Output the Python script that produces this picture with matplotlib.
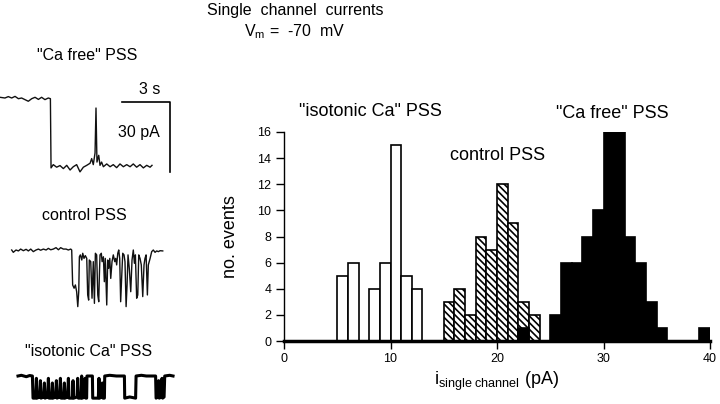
import numpy as np
import matplotlib.pyplot as plt

plt.rcParams['font.family'] = ['Liberation Sans', 'DejaVu Sans']
plt.rcParams['mathtext.fontset'] = 'custom'
plt.rcParams['mathtext.rm'] = 'Liberation Sans'
plt.rcParams['mathtext.it'] = 'Liberation Sans:italic'
plt.rcParams['hatch.linewidth'] = 1.2

# histogram: left bin edge (pA), bin width 1 pA, number of events
iso_left = [5, 6, 8, 9, 10, 11, 12]
iso_counts = [5, 6, 4, 6, 15, 5, 4]
ctrl_left = [15, 16, 17, 18, 19, 20, 21, 22, 23]
ctrl_counts = [3, 4, 2, 8, 7, 12, 9, 3, 2]
free_left = [22, 25, 26, 27, 28, 29, 30, 31, 32, 33, 34, 35, 39]
free_counts = [1, 2, 6, 6, 8, 10, 16, 16, 8, 6, 3, 1, 1]
x_ticks = [0, 10, 20, 30, 40]
y_ticks = [0, 2, 4, 6, 8, 10, 12, 14, 16]

# current traces, time (s) / current (pA)
free_t = [0, 0.31, 0.52, 0.73, 0.94, 1.15, 1.35, 1.56, 1.77, 1.98, 2.19, 2.40, 2.60, 2.81,
          3.02, 3.15, 3.19, 3.33, 3.54, 3.75, 3.96, 4.17, 4.38, 4.58, 4.79, 5.00, 5.21,
          5.42, 5.63, 5.73, 5.83, 5.94, 6.00, 6.06, 6.17, 6.25, 6.35, 6.46, 6.67, 6.88,
          7.08, 7.29, 7.50, 7.71, 7.92, 8.13, 8.33, 8.54, 8.75, 8.96, 9.17, 9.38, 9.50]
free_i = [0.3, 0, 0.6, 0, 0.7, -0.3, 0, -0.7, -1.4, -0.3, 0.3, -0.6, 0.3, -0.7,
          0, -0.3, -30.0, -28.6, -29.7, -29.0, -30.3, -28.9, -30.9, -29.5, -28.6, -31.7, -29.7,
          -28.9, -28.0, -26.0, -28.6, -23.6, -4.3, -27.5, -24.6, -28.9, -27.5, -29.5, -28.3, -29.5,
          -28.6, -29.9, -28.3, -29.5, -28.6, -29.5, -28.3, -29.7, -28.6, -30.0, -28.9, -29.7, -28.9]

ctrl_t = [0, 0.10, 0.27, 0.42, 0.56, 0.73, 0.90, 1.04, 1.19, 1.35, 1.52, 1.67, 1.81, 1.98,
          2.15, 2.29, 2.44, 2.60, 2.77, 2.92, 3.06, 3.23, 3.40, 3.54, 3.69, 3.75, 3.81, 3.90,
          3.98, 4.06, 4.13, 4.19, 4.23, 4.29, 4.38, 4.44, 4.52, 4.60, 4.69, 4.75, 4.81, 4.85,
          4.94, 5.02, 5.10, 5.17, 5.23, 5.31, 5.38, 5.44, 5.48, 5.52, 5.60, 5.65, 5.73, 5.79,
          5.85, 5.94, 6.00, 6.06, 6.13, 6.19, 6.27, 6.35, 6.44, 6.50, 6.56, 6.63, 6.69, 6.75,
          6.81, 6.88, 6.94, 7.02, 7.08, 7.15, 7.21, 7.27, 7.35, 7.44, 7.52, 7.60, 7.67, 7.73,
          7.81, 7.88, 7.94, 8.02, 8.10, 8.19, 8.27, 8.33, 8.40, 8.48, 8.54, 8.65, 8.75, 8.85,
          8.96, 9.06, 9.17, 9.27, 9.44]
ctrl_i = [0, -1.0, 0, -0.4, 0.4, -0.3, 0.3, -0.4, 0.4, -0.7, 0, 0.4, -0.1, 0.4,
          0, 0.7, 0.1, 0.4, 1.0, 0.1, 1.0, 0.4, 0.4, 0, 0.4, 0, -15.0, -16.4,
          -15.0, -17.9, -24.3, -17.9, -2.9, -2.1, -4.3, -1.4, -3.6, -2.4, -3.6, -19.3, -21.5, -4.3,
          -5.0, -20.7, -5.0, -22.9, -1.4, -2.1, -19.3, -22.2, -10.7, -2.1, -1.4, -5.0, -2.9, -13.6,
          -3.6, -23.6, -4.3, -7.9, -3.6, -12.2, -5.0, -2.1, -5.0, -3.6, -6.4, -1.4, 0, -3.6,
          -22.2, -10.7, -1.4, -2.1, -5.0, -24.3, -15.0, -2.1, -7.9, -17.9, -4.3, 0, -5.7, -2.1,
          -20.7, -19.3, -2.1, -3.6, -6.4, -20.0, -6.4, -3.6, -2.1, -19.3, -6.4, -3.6, -0.7, 0,
          -1.0, -0.4, -0.7, -0.3, -0.4]

iso_t = [0, 0.21, 0.52, 0.73, 0.90, 0.94, 1.10, 1.15, 1.19, 1.35, 1.40, 1.44, 1.60, 1.65,
         1.69, 1.85, 1.90, 1.94, 2.10, 2.15, 2.19, 2.35, 2.40, 2.44, 2.60, 2.65, 2.69, 2.85,
         2.90, 2.94, 3.10, 3.15, 3.19, 3.40, 3.44, 3.48, 3.69, 3.73, 3.77, 3.94, 3.98, 4.02,
         4.15, 4.19, 4.23, 4.29, 4.31, 4.65, 4.67, 5.02, 5.06, 5.10, 5.23, 5.27, 5.31, 5.40,
         5.42, 5.73, 6.15, 6.65, 6.67, 6.98, 7.35, 7.38, 7.71, 8.02, 8.60, 8.63, 8.75, 8.79,
         8.83, 8.96, 9.00, 9.04, 9.13, 9.17, 9.48, 9.69]
iso_i = [0, 0.3, -0.3, 0.2, 0, -9.5, -9.5, -1, -9.5, -9, -2, -9.5, -9, -3,
         -9.5, -9, -1, -9.5, -9.5, -3, -9.5, -9, -2, -9.5, -9, -1, -9.5, -9.5,
         -3, -9.5, -9, -1, -9.5, -9.5, -2, -9.5, -9, -1, -9.5, -9.5, 0, -9.5,
         -9, -1, -9.5, -9.5, 0, 0, -9.5, -9.5, -1, -9.5, -9, -3, -9.5, -9.5,
         0, 0.3, 0, 0, -9.5, -9, -9.5, 0, 0.3, 0, 0, -9.5, -9, -2,
         -9.5, -9, -1, -9.5, -9, 0, 0.3, 0]

scale_s = 3
scale_pa = 30

W, H = 720, 404
fig = plt.figure(figsize=(W / 100, H / 100), dpi=100)

# --- left panel: example records ---
PX_PER_S = 16.0
PX_PER_PA = 2.33
PANEL_W = 200


def trace_axes(x0, ybase):
    a = fig.add_axes([0, 0, PANEL_W / W, 1])
    a.set_xlim(-x0 / PX_PER_S, (PANEL_W - x0) / PX_PER_S)
    a.set_ylim(-(H - ybase) / PX_PER_PA, ybase / PX_PER_PA)
    a.axis('off')
    a.patch.set_alpha(0)
    return a


a1 = trace_axes(0, 98)
a1.plot(free_t, free_i, color='#111111', lw=1.0)
sx0, sy0 = 7.6, -1.8
a1.plot([sx0, sx0 + scale_s, sx0 + scale_s], [sy0, sy0, sy0 - scale_pa], color='black', lw=1.2)

a2 = trace_axes(11.7, 250)
a2.plot(ctrl_t, ctrl_i, color='#111111', lw=1.0)

a3 = trace_axes(18, 376)
a3.plot(iso_t, iso_i, color='black', lw=2.2)

fig.text(87 / W, 1 - 55 / H, '"Ca free" PSS', fontsize=11.5, ha='center', va='center')
fig.text(84 / W, 1 - 216 / H, 'control PSS', fontsize=11.5, ha='center', va='center')
fig.text(89 / W, 1 - 352 / H, '"isotonic Ca" PSS', fontsize=11.5, ha='center', va='center')
fig.text(150 / W, 1 - 89 / H, '3 s', fontsize=11.5, ha='center', va='center')
fig.text(139 / W, 1 - 133 / H, '30 pA', fontsize=11.5, ha='center', va='center')

fig.text(295 / W, 1 - 11 / H, 'Single  channel  currents', fontsize=11.5, ha='center', va='center')
fig.text(295 / W, 1 - 32 / H, r'V$_{\rm m}$ =  -70  mV', fontsize=11.5, ha='center', va='center')

# --- right panel: amplitude histogram ---
ax = fig.add_axes([284 / W, (H - 341) / H, 426 / W, 209 / H])
ax.bar(iso_left, iso_counts, width=1, align='edge', color='white', edgecolor='black',
       lw=1.2, zorder=2)
ax.bar(ctrl_left, ctrl_counts, width=1, align='edge', color='white', edgecolor='black',
       hatch='\\' * 5, lw=1.2, zorder=2)
ax.bar(free_left, free_counts, width=1, align='edge', color='black', edgecolor='black',
       lw=1.2, zorder=3)

ax.set_xlim(0, 40)
ax.set_ylim(0, 16)
ax.set_xticks(x_ticks)
ax.set_yticks(y_ticks)
for s in ['top', 'right']:
    ax.spines[s].set_visible(False)
ax.spines['bottom'].set_linewidth(2.5)
ax.spines['bottom'].set_zorder(5)
ax.spines['left'].set_linewidth(1.0)
ax.tick_params(direction='out', length=6, width=1, labelsize=9, pad=3)

ax.set_ylabel('no. events', fontsize=13)
ax.yaxis.set_label_coords(-0.105, 0.5)
ax.set_xlabel(r'i$_{\rm single\ channel}$ (pA)', fontsize=13)
ax.xaxis.set_label_coords(0.5, -0.14)

fig.text(370 / W, 1 - 112 / H, '"isotonic Ca" PSS', fontsize=13, ha='center', va='center')
fig.text(498 / W, 1 - 155 / H, 'control PSS', fontsize=13, ha='center', va='center')
fig.text(612 / W, 1 - 113 / H, '"Ca free" PSS', fontsize=13, ha='center', va='center')

plt.savefig('out.png', dpi=100)
